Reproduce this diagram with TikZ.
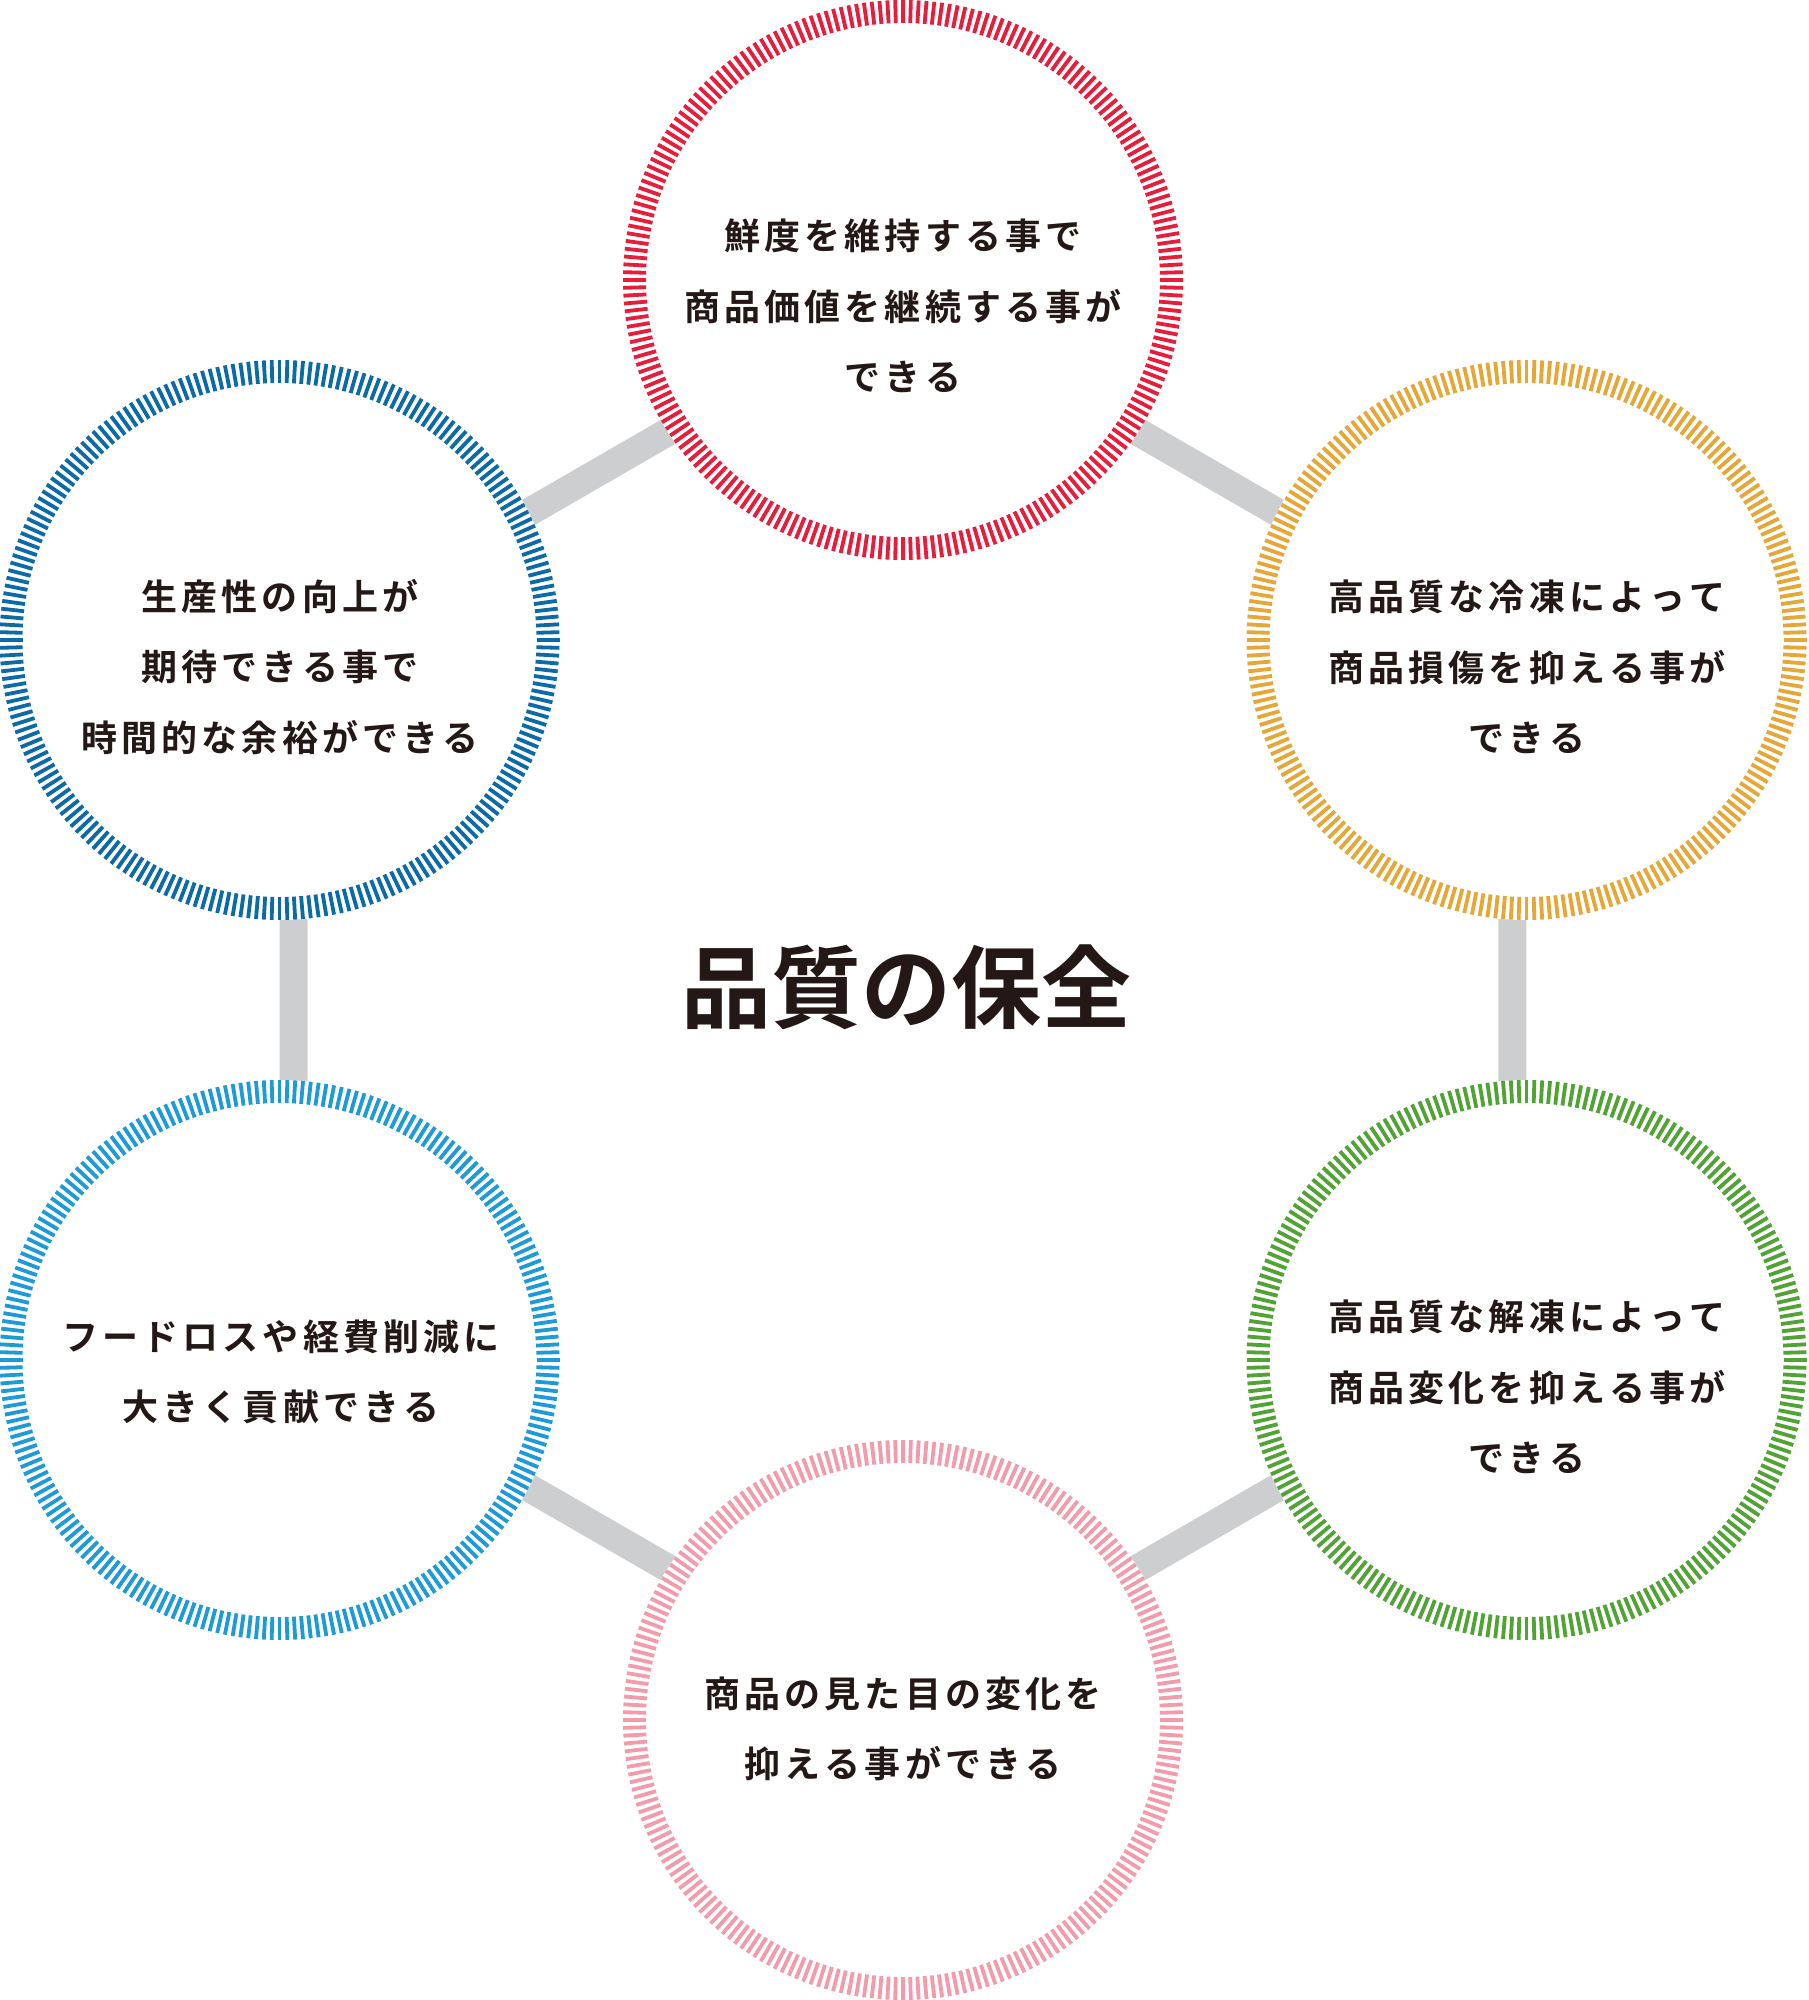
\documentclass[tikz,border=0pt]{standalone}
\usepackage{fontspec}
\newfontfamily\jpb{Noto Sans CJK JP Bold}
\usetikzlibrary{calc,backgrounds}
\definecolor{cred}{HTML}{E61E3C}
\definecolor{cgold}{HTML}{E5A737}
\definecolor{cgreen}{HTML}{52A336}
\definecolor{cpink}{HTML}{F29CAB}
\definecolor{clblue}{HTML}{1E9AD6}
\definecolor{cdblue}{HTML}{0C6AA6}
\definecolor{cbar}{HTML}{CDCED0}
\definecolor{ink}{HTML}{231815}
\makeatletter
\newcommand\spc[1]{\def\spc@sep{}\@tfor\spc@c:=#1\do{\spc@sep\spc@c\def\spc@sep{\kern4.2pt}}}
\makeatother
\newcommand\tickring[2]{%
  \foreach \i in {0,...,223}{%
    \pgfmathsetmacro\ang{90+\i*1.6071429}%
    \draw[#2, line width=3.8pt] ($(#1)+(\ang:257)$) -- ($(#1)+(\ang:280)$);}}
\begin{document}
\begin{tikzpicture}[x=1pt,y=-1pt,
  ring/.style={circle, fill=white, inner sep=0pt, minimum size=560pt},
  lbl/.style={font=\jpb\fontsize{36}{70.5}\selectfont, align=center, text=ink, inner sep=0pt},
  ttl/.style={font=\jpb\fontsize{90}{100}\selectfont, text=ink, inner sep=0pt},
  bar/.style={line width=28pt, draw=cbar}]
\useasboundingbox (0,0) rectangle (1808,2000);
\coordinate (hc) at (903,1000);
\node[ring] (top) at (903,280) {};
\node[ring] (ur) at (1526.5,640) {};
\node[ring] (lr) at (1526.5,1360) {};
\node[ring] (bot) at (903,1720) {};
\node[ring] (ll) at (279.5,1360) {};
\node[ring] (ul) at (279.5,640) {};
\coordinate (btop) at ($(hc)!0.9775!(top)$);
\coordinate (bur) at ($(hc)!0.9775!(ur)$);
\coordinate (blr) at ($(hc)!0.9775!(lr)$);
\coordinate (bbot) at ($(hc)!0.9775!(bot)$);
\coordinate (bll) at ($(hc)!0.9775!(ll)$);
\coordinate (bul) at ($(hc)!0.9775!(ul)$);
\begin{scope}[on background layer]
\fill[white] (0,0) rectangle (1808,2000);
\draw[bar] (btop) -- (bur) -- (blr) -- (bbot) -- (bll) -- (bul) -- cycle;
\end{scope}
\tickring{top}{cred}
\tickring{ur}{cgold}
\tickring{lr}{cgreen}
\tickring{bot}{cpink}
\tickring{ll}{clblue}
\tickring{ul}{cdblue}
\node[lbl] (ttop) at (903,306) {\spc{鮮度を維持する事で}\\\spc{商品価値を継続する事が}\\\spc{できる}};
\node[lbl] (tur) at (1527,667) {\spc{高品質な冷凍によって}\\\spc{商品損傷を抑える事が}\\\spc{できる}};
\node[lbl] (tlr) at (1527,1387) {\spc{高品質な解凍によって}\\\spc{商品変化を抑える事が}\\\spc{できる}};
\node[lbl] (tbot) at (903,1729) {\spc{商品の見た目の変化を}\\\spc{抑える事ができる}};
\node[lbl] (tll) at (281,1372) {\spc{フードロスや経費削減に}\\\spc{大きく貢献できる}};
\node[lbl] (tul) at (280,667) {\spc{生産性の向上が}\\\spc{期待できる事で}\\\spc{時間的な余裕ができる}};
\node[ttl] (title) at (906,987) {品質の保全};
\end{tikzpicture}
\end{document}
